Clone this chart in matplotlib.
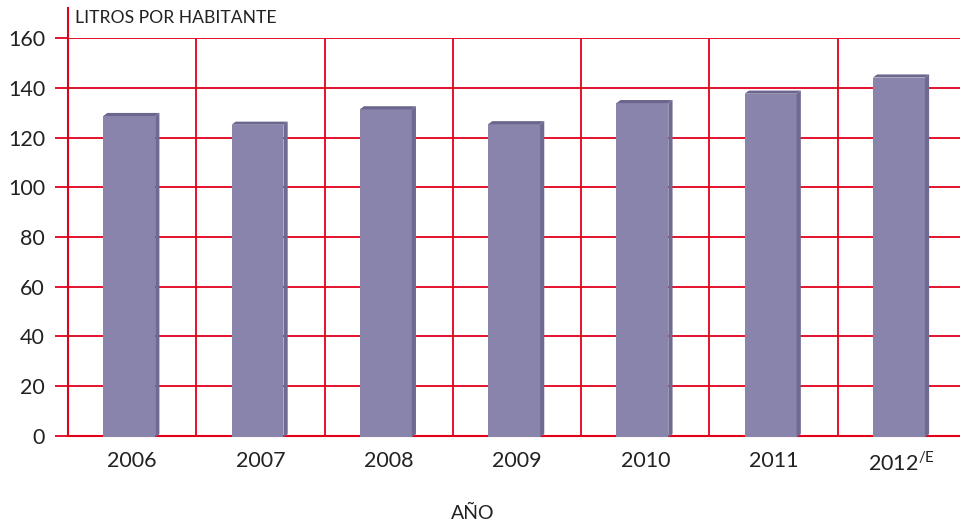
import matplotlib
matplotlib.use("Agg")
import matplotlib.pyplot as plt
from matplotlib.patches import Polygon
from matplotlib.lines import Line2D

years = ["2006", "2007", "2008", "2009", "2010", "2011", "2012"]
year_labels = ["2006", "2007", "2008", "2009", "2010", "2011", r"2012$^{\mathregular{/E}}$"]
litros = [128.7, 125.2, 131.4, 125.4, 133.9, 137.7, 144.2]
yticks = [0, 20, 40, 60, 80, 100, 120, 140, 160]

RED = "#E2001A"
FRONT = "#8984AC"
SIDE = "#6F6A93"
TOP = "#6A668E"
TXT = "#222222"

plt.rcParams["font.family"] = ["Lato", "DejaVu Sans"]

W, H = 960, 527
fig = plt.figure(figsize=(9.6, 5.27), dpi=100)
left, right = 68 / W, 966 / W
bottom, top = (H - 435.7) / H, (H - 38.3) / H
ax = fig.add_axes([left, bottom, right - left, top - bottom])

n = len(years)
xs = list(range(n))
ax.set_xlim(-0.5, n - 0.5)
ax.set_ylim(0, 160)

# grid
for v in yticks[1:]:
    ax.axhline(v, color=RED, lw=1.3, zorder=1)
for i in range(1, n):
    ax.plot([i - 0.5, i - 0.5], [0, 160], color=RED, lw=1.3, zorder=1)

# 3D bars
bw = 0.405
off = -0.023
dx = 0.033
dy = 1.25
for x, v in zip(xs, litros):
    x0 = x + off - bw / 2
    x1 = x + off + bw / 2
    ax.add_patch(Polygon([[x0, -0.6], [x1, -0.6], [x1, v], [x0, v]], closed=True,
                         facecolor=FRONT, edgecolor="none", zorder=3, clip_on=False))
    ax.add_patch(Polygon([[x1, -0.6], [x1 + dx, dy - 0.6], [x1 + dx, v + dy], [x1, v]], closed=True,
                         facecolor=SIDE, edgecolor="none", zorder=3, clip_on=False))
    ax.add_patch(Polygon([[x0, v], [x0 + dx, v + dy], [x1 + dx, v + dy], [x1, v]], closed=True,
                         facecolor=TOP, edgecolor="none", zorder=3, clip_on=False))

for s in ["top", "right"]:
    ax.spines[s].set_visible(False)
for s in ["left", "bottom"]:
    ax.spines[s].set_color(RED)
    ax.spines[s].set_linewidth(1.5)
    ax.spines[s].set_zorder(2)

# extend left spine above top
ax.add_line(Line2D([0, 0], [1, 1 + 30 / 397.4], transform=ax.transAxes, color=RED,
                   lw=1.5, clip_on=False))

ax.set_yticks(yticks)
ax.set_yticklabels([str(t) for t in yticks])
ax.tick_params(axis="y", direction="out", length=9.5, width=1.3, color=RED,
               labelsize=15.5, labelcolor=TXT, pad=7)
ax.set_xticks(xs)
ax.set_xticklabels(year_labels)
ax.tick_params(axis="x", length=0, labelsize=15.5, labelcolor=TXT, pad=11)

fig.text(75 / W, 1 - 18 / H, "LITROS POR HABITANTE", ha="left", va="center",
         fontsize=12.6, color=TXT)
fig.text(473 / W, 1 - 513 / H, "AÑO", ha="center", va="center", fontsize=14, color=TXT)

fig.savefig("out.png", dpi=100, facecolor="white")
